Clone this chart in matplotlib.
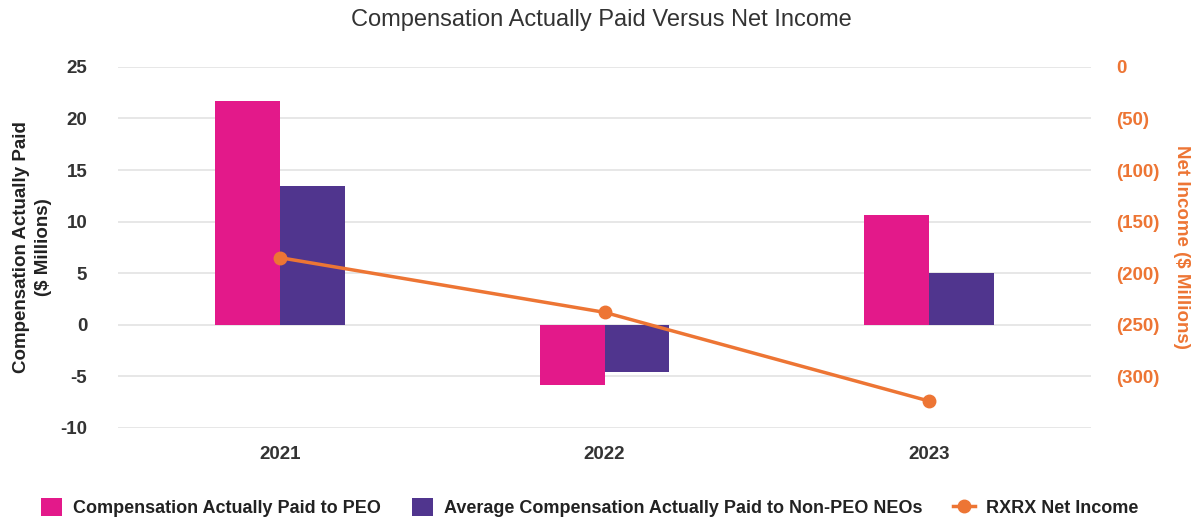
import numpy as np
import matplotlib.pyplot as plt
from matplotlib.ticker import FuncFormatter

plt.rcParams['font.family'] = ['Liberation Sans', 'DejaVu Sans']
plt.rcParams['axes.unicode_minus'] = False

years = ['2021', '2022', '2023']
cap_peo = [21.7, -5.8, 10.6]
cap_neo = [13.5, -4.6, 5.0]
net_income = [-185, -238, -324]

pink = '#E3198A'
purple = '#50358E'
orange = '#ED7534'
dark = '#333333'

fig = plt.figure(figsize=(12.03, 5.23), dpi=100)
ax = fig.add_axes([0.098, 0.182, 0.809, 0.690])
x = np.arange(len(years))
w = 0.2
ax.bar(x - w/2, cap_peo, w, color=pink, label='Compensation Actually Paid to PEO', zorder=2)
ax.bar(x + w/2, cap_neo, w, color=purple, label='Average Compensation Actually Paid to Non-PEO NEOs', zorder=2)
ax.set_xlim(-0.5, 2.5)
ax.set_ylim(-10, 25)
ax.set_yticks(np.arange(-10, 26, 5))
ax.grid(axis='y', color='#E3E3E3', lw=1.2, zorder=0)
ax.set_axisbelow(True)
ax.set_xticks(x)
ax.set_xticklabels(years)
for s in ax.spines.values():
    s.set_visible(False)
ax.tick_params(axis='both', length=0, labelsize=13.5, labelcolor=dark)
ax.tick_params(axis='y', pad=22)
ax.tick_params(axis='x', pad=13)
for t in ax.get_xticklabels() + ax.get_yticklabels():
    t.set_fontweight('bold')
ax.set_ylabel('Compensation Actually Paid\n($ Millions)', fontsize=13.5, fontweight='bold', color='#222222',
              labelpad=6, linespacing=1.35)

ax2 = ax.twinx()
ax2.plot(x, net_income, color=orange, lw=2.5, marker='o', ms=9, label='RXRX Net Income', zorder=3)
ax2.set_ylim(-350, 0)
ax2.set_yticks(np.arange(-300, 1, 50))
ax2.yaxis.set_major_formatter(FuncFormatter(lambda v, p: '0' if v == 0 else '(%d)' % abs(v)))
for s in ax2.spines.values():
    s.set_visible(False)
ax2.tick_params(axis='y', length=0, labelsize=13.5, labelcolor=orange, pad=18)
for t in ax2.get_yticklabels():
    t.set_fontweight('bold')
ax2.set_ylabel('Net Income ($ Millions)', fontsize=13.5, fontweight='bold', color=orange, rotation=270, labelpad=22)

fig.suptitle('Compensation Actually Paid Versus Net Income', x=0.5, y=0.982, fontsize=17, color='#333333')

h1, l1 = ax.get_legend_handles_labels()
h2, l2 = ax2.get_legend_handles_labels()
leg = fig.legend(h1 + h2, l1 + l2, loc='lower center', bbox_to_anchor=(0.49, -0.02), ncol=3, frameon=False,
                 fontsize=13, handlelength=1.2, handleheight=1.2, columnspacing=1.7, handletextpad=0.6)
for t in leg.get_texts():
    t.set_fontweight('bold')
    t.set_color('#222222')

fig.savefig('out.png', dpi=100)
